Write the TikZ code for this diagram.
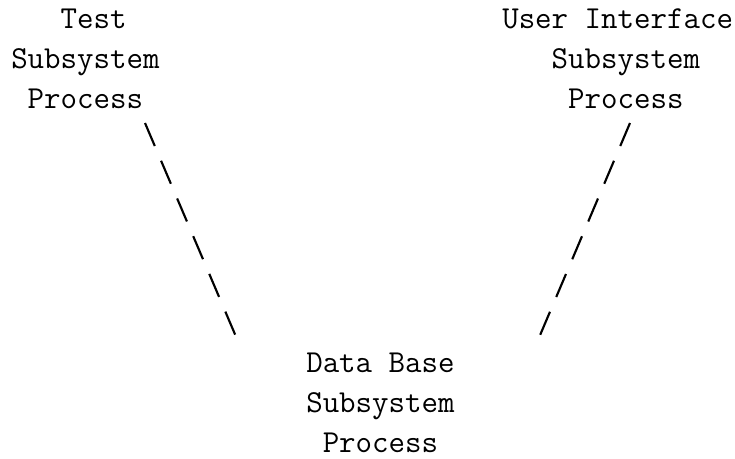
\documentclass[tikz,border=0pt]{standalone}
\begin{document}
\begin{tikzpicture}[x=0.75pt,y=-0.75pt,
  proc/.style={inner sep=0pt, anchor=base west, align=left,
    font=\fontsize{24}{30}\selectfont\ttfamily},
  link/.style={line width=1.6pt, dash pattern=on 18.75pt off 12pt}]
\useasboundingbox (0,0) rectangle (735,458);
% the three subsystem processes (anchored at the baseline of their last line)
\node[proc] (test) at (11,108) {\phantom{xxx}Test\\Subsystem\\\phantom{x}Process};
\node[proc] (ui) at (502,108) {User Interface\\\phantom{xxx}Subsystem\\\phantom{xxxx}Process};
\node[proc] (db) at (306,452) {Data Base\\Subsystem\\\phantom{x}Process};
% end points of the dashed links
\coordinate (testend) at (145,123);
\coordinate (dbleft) at (237,339);
\coordinate (uiend) at (630,123);
\coordinate (dbright) at (538,340);
\draw[link] (testend) -- (dbleft);
\draw[link] (uiend) -- (dbright);
\end{tikzpicture}
\end{document}
